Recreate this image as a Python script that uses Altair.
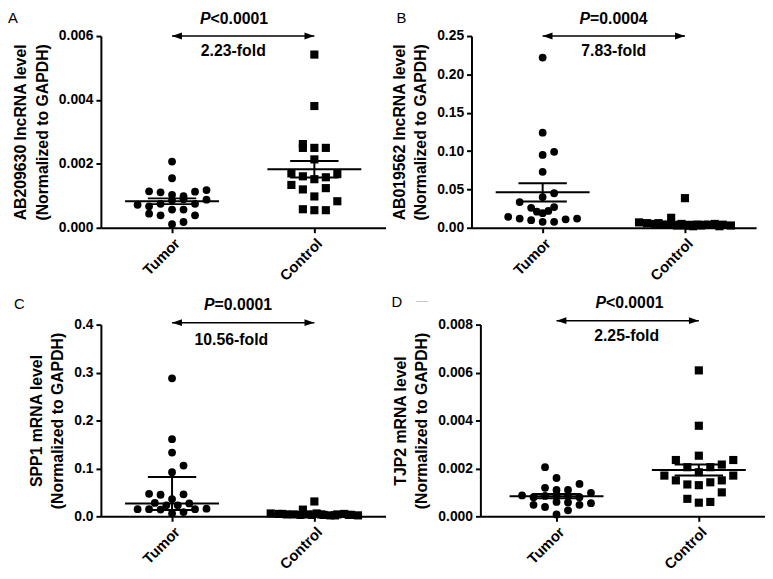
import altair as alt
import pandas as pd

FONT = "Liberation Sans"
groups = ["Tumor", "Control"]

# ---------------- data ----------------
# Panel A  (AB209630)
a_tumor = [0.00207, 0.00155, 0.00114, 0.00111, 0.00103, 0.00099, 0.00113, 0.00118, 0.00072, 0.00067,
           0.00075, 0.00086, 0.00089, 0.00075, 0.00088, 0.00044, 0.00039, 0.00057, 0.00057, 0.00039,
           0.00011, 0.00018]
a_tumor_slot = [0, 0, -2, -1, 0, 1, 2, 3, -3, -2, -1, 0, 1, 2, 3, -2, -1, 0, 1, 2, 0, 1]
a_control = [0.00542, 0.00381, 0.00262, 0.00250, 0.00250, 0.00250, 0.00214, 0.00170, 0.00161, 0.00152,
             0.00158, 0.00168, 0.00134, 0.00120, 0.00124, 0.00098, 0.00083, 0.00058, 0.00055, 0.00055]
a_control_slot = [0, 0, -1, -1, 0, 1, 0, -2, -1, 0, 1, 2, -2, -1, 1, 0, 2, -1, 0, 1]
a_center = [0.00083, 0.00183]
a_upper = [0.00092, 0.00209]
a_lower = [0.00074, 0.00157]

# Panel B  (AB019562)
b_tumor = [0.222, 0.124, 0.095, 0.099, 0.073, 0.045, 0.040, 0.0335, 0.026, 0.021,
           0.019, 0.022, 0.027, 0.0142, 0.012, 0.0099, 0.0077, 0.0077, 0.011, 0.012]
b_tumor_slot = [0, 0, 0, 1, 0, 1, 0, -2, -1, -0.5, 0, 0.5, 1, -3, -2, -1, 0, 1, 2, 3]
b_control = [0.0386, 0.013, 0.007, 0.006, 0.005, 0.004, 0.004, 0.003, 0.003, 0.002,
             0.003, 0.004, 0.005, 0.004, 0.003, 0.006, 0.005, 0.003, 0.004, 0.002]
b_control_slot = [0, -1.2, -4, -3.3, -2.6, -2, -1.4, -0.7, 0, 0.7,
                  1.4, 2, 2.6, 3.3, 4, -2.3, -0.3, 0.4, 1.1, 3]
b_center = [0.0463, 0.0059]
b_upper = [0.058, 0.0077]
b_lower = [0.0343, 0.0041]

# Panel C  (SPP1)
c_tumor = [0.288, 0.161, 0.133, 0.106, 0.092, 0.047, 0.045, 0.046, 0.036, 0.028,
           0.023, 0.023, 0.027, 0.015, 0.015, 0.014, 0.015, 0.016, 0.006, 0.009]
c_tumor_slot = [0, 0, 0, 1, 0, -2, -1, 1, 0, -1.5, -0.5, 0.5, 1.5, -3, -2, -1, 2, 3, 0, 1]
c_control = [0.031, 0.014, 0.006, 0.005, 0.004, 0.004, 0.003, 0.004, 0.006, 0.003,
             0.002, 0.004, 0.005, 0.003, 0.002, 0.005, 0.003, 0.004, 0.002, 0.003]
c_control_slot = [0, -1, -3.8, -3.1, -2.4, -1.8, -1.2, -0.5, 0.2, 0.8,
                  1.4, 2, 2.6, 3.2, 3.8, -2.8, -0.2, 0.6, 1.8, 3]
c_center = [0.027, 0.005]
c_upper = [0.082, 0.0065]
c_lower = [0.013, 0.0035]

# Panel D  (TJP2)
d_tumor = [0.00205, 0.00160, 0.00135, 0.00119, 0.00110, 0.00110, 0.00087, 0.00098, 0.00080, 0.00085,
           0.00090, 0.00085, 0.00080, 0.00048, 0.00039, 0.00060, 0.00058, 0.00048, 0.00055, 0.00008,
           0.00025]
d_tumor_slot = [-1, 0, 2, -1, 0, 1, -3, 3, -2, -1, 0, 1, 2, -2, -1, 0, 1, 2, 3, 0, 1]
d_control = [0.00609, 0.00378, 0.00253, 0.00235, 0.00235, 0.00216, 0.00205, 0.00205, 0.00184, 0.00170,
             0.00170, 0.00150, 0.00150, 0.00133, 0.00130, 0.00142, 0.00100, 0.00073, 0.00057, 0.00060]
d_control_slot = [0, 0, 0, -2, 3, 2, -1, 1, 0, -3, 3, -2, 2, -1, 0, 1, 2, -1, 0, 1]
d_center = [0.00084, 0.00193]
d_upper = [0.00093, 0.00216]
d_lower = [0.00075, 0.00170]

letters = ["A", "B", "C", "D"]
y_titles = [
    ["AB209630 lncRNA level", "(Normalized to GAPDH)"],
    ["AB019562 lncRNA level", "(Normalized to GAPDH)"],
    ["SPP1 mRNA level", "(Normalized to GAPDH)"],
    ["TJP2 mRNA level", "(Normalized to GAPDH)"],
]
p_rest = ["<0.0001", "=0.0004", "=0.0001", "<0.0001"]
fold_labels = ["2.23-fold", "7.83-fold", "10.56-fold", "2.25-fold"]
y_ticks = [
    [0, 0.002, 0.004, 0.006],
    [0, 0.05, 0.10, 0.15, 0.20, 0.25],
    [0, 0.1, 0.2, 0.3, 0.4],
    [0, 0.002, 0.004, 0.006, 0.008],
]
y_formats = [".3f", ".2f", ".1f", ".3f"]

# ---------------- layout / style constants ----------------
W, H = 288, 194
STEP = 0.0807          # x-domain units per beeswarm slot
MEAN_HALF = 0.33
SEM_HALF = 0.17
CENTER = {"Tumor": 0.5, "Control": 1.5}
letter_pos = [(-94, -13), (-76, -13), (-88, -16), (-90, -18)]
x_domain_shift = [0, 0, 0, 0.035]
p_dx = [-11, -2, -7, 0]
p_y = [-17, -17, -20, -22]
fold_dx = [-10, 0, -12, -1]
fold_y = [15, 15, 16, 12]
arrow_y = [0, 0, -2, -4]
LEFT_HEAD = "M0,0L2,-0.7L2,0.7Z"
RIGHT_HEAD = "M0,0L-2,-0.7L-2,0.7Z"


def make_panel(i, tv, ts, cv, cs, center, upper, lower):
    ymax = y_ticks[i][-1]
    sh = x_domain_shift[i]
    xscale = alt.Scale(domain=[0 - sh, 2 - sh], nice=False, zero=False)
    yscale = alt.Scale(domain=[0, ymax], nice=False, zero=True)
    xaxis = alt.Axis(values=[0.5, 1.5], title=None,
                     labelExpr=f"datum.value < 1 ? '{groups[0]}' : '{groups[1]}'",
                     labelAngle=315, labelAlign="right", labelBaseline="top",
                     labelPadding=3, labelFontSize=15, grid=False)
    yaxis = alt.Axis(values=y_ticks[i], format=y_formats[i], title=y_titles[i],
                     grid=False, titlePadding=8)

    def X(f):
        return alt.X(f, scale=xscale, axis=xaxis)

    def Y(f):
        return alt.Y(f, scale=yscale, axis=yaxis)

    tdf = pd.DataFrame({"value": tv, "slot": ts})
    tdf["x"] = CENTER["Tumor"] + tdf["slot"] * STEP
    cdf = pd.DataFrame({"value": cv, "slot": cs})
    cdf["x"] = CENTER["Control"] + cdf["slot"] * STEP

    summ = pd.DataFrame({"group": groups, "center": center, "upper": upper, "lower": lower})
    summ["xc"] = summ["group"].map(CENTER)
    summ["m0"] = summ["xc"] - MEAN_HALF
    summ["m1"] = summ["xc"] + MEAN_HALF
    summ["s0"] = summ["xc"] - SEM_HALF
    summ["s1"] = summ["xc"] + SEM_HALF

    info = pd.DataFrame({"x0": [CENTER["Tumor"]], "x1": [CENTER["Control"]],
                         "mid": [1.0], "p": ["P"], "rest": [p_rest[i]],
                         "fold": [fold_labels[i]], "letter": [letters[i]]})

    circles = alt.Chart(tdf).mark_circle(size=62, color="black", opacity=1).encode(
        x=X("x:Q"), y=Y("value:Q"))
    squares = alt.Chart(cdf).mark_square(size=68, color="black", opacity=1).encode(
        x=X("x:Q"), y=Y("value:Q"))

    sb = alt.Chart(summ)
    mean_rule = sb.mark_rule(color="black", strokeWidth=2).encode(x=X("m0:Q"), x2="m1:Q", y=Y("center:Q"))
    up_rule = sb.mark_rule(color="black", strokeWidth=2).encode(x=X("s0:Q"), x2="s1:Q", y=Y("upper:Q"))
    lo_rule = sb.mark_rule(color="black", strokeWidth=2).encode(x=X("s0:Q"), x2="s1:Q", y=Y("lower:Q"))
    v_rule = sb.mark_rule(color="black", strokeWidth=2).encode(x=X("xc:Q"), y=Y("lower:Q"), y2="upper:Q")

    ib = alt.Chart(info)
    ay = arrow_y[i]
    arrow = ib.mark_rule(color="black", strokeWidth=1.5).encode(x=X("x0:Q"), x2="x1:Q", y=alt.value(ay))
    head_l = ib.mark_point(shape=LEFT_HEAD, filled=True, size=100, color="black", opacity=1).encode(
        x=X("x0:Q"), y=alt.value(ay))
    head_r = ib.mark_point(shape=RIGHT_HEAD, filled=True, size=100, color="black", opacity=1).encode(
        x=X("x1:Q"), y=alt.value(ay))
    p_txt = ib.mark_text(font=FONT, fontSize=16, fontWeight="bold", fontStyle="italic",
                         align="right", baseline="middle", dx=-22 + p_dx[i], color="black").encode(
        x=X("mid:Q"), y=alt.value(p_y[i]), text="p:N")
    rest_txt = ib.mark_text(font=FONT, fontSize=16, fontWeight="bold",
                            align="left", baseline="middle", dx=-22 + p_dx[i], color="black").encode(
        x=X("mid:Q"), y=alt.value(p_y[i]), text="rest:N")
    fold_txt = ib.mark_text(font=FONT, fontSize=16, fontWeight="bold",
                            align="center", baseline="middle", dx=fold_dx[i], color="black").encode(
        x=X("mid:Q"), y=alt.value(fold_y[i]), text="fold:N")
    lx, ly = letter_pos[i]
    letter_txt = ib.mark_text(font=FONT, fontSize=15, align="left", baseline="alphabetic",
                              color="black").encode(x=alt.value(lx), y=alt.value(ly), text="letter:N")

    layers = [circles, squares, mean_rule, up_rule, lo_rule, v_rule,
              arrow, head_l, head_r, p_txt, rest_txt, fold_txt, letter_txt]
    if i == 3:
        dash = ib.mark_text(font=FONT, fontSize=12, align="left", baseline="middle",
                            color="#c8c8c8").encode(x=alt.value(lx + 25), y=alt.value(ly - 6),
                                                    text=alt.value("\u2014"))
        layers.append(dash)
    return alt.layer(*layers).properties(width=W, height=H)


pA = make_panel(0, a_tumor, a_tumor_slot, a_control, a_control_slot, a_center, a_upper, a_lower)
pB = make_panel(1, b_tumor, b_tumor_slot, b_control, b_control_slot, b_center, b_upper, b_lower)
pC = make_panel(2, c_tumor, c_tumor_slot, c_control, c_control_slot, c_center, c_upper, c_lower)
pD = make_panel(3, d_tumor, d_tumor_slot, d_control, d_control_slot, d_center, d_upper, d_lower)

chart = alt.vconcat(
    alt.hconcat(pA, pB, spacing=5),
    alt.hconcat(pC, pD, spacing=6),
    spacing=11,
).properties(
    padding={"left": 0, "top": 0, "right": 0, "bottom": 0},
    background="white",
).configure_view(stroke=None).configure_axis(
    labelFont=FONT, labelFontSize=14, labelFontWeight="bold", labelColor="black",
    titleFont=FONT, titleFontSize=16, titleFontWeight="bold", titleColor="black",
    titleLineHeight=22,
    domainColor="black", domainWidth=2, tickColor="black", tickWidth=2, tickSize=5,
    labelPadding=3,
)

chart.save("out.html", embed_options={"renderer": "svg", "actions": False})
